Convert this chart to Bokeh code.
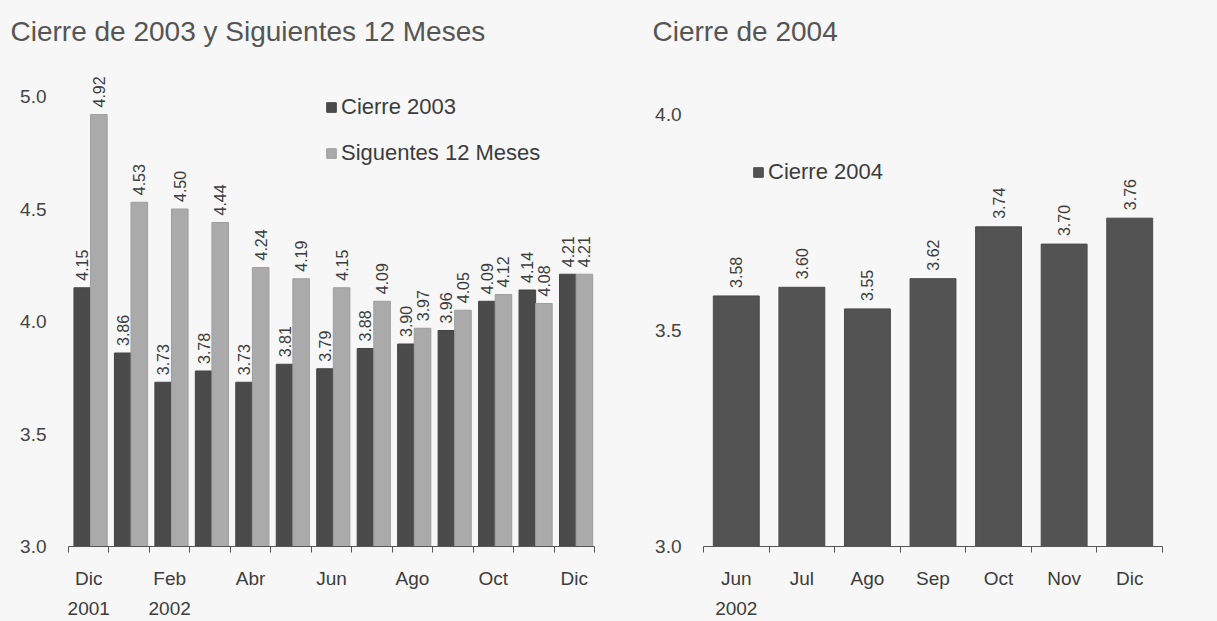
import numpy as np
from bokeh.plotting import figure
from bokeh.models import Range1d, FixedTicker, LinearAxis, Legend, LegendItem, ColumnDataSource, PrintfTickFormatter
from bokeh.layouts import row
from bokeh.embed import file_html
from bokeh.resources import INLINE
from bokeh.core.properties import value

# ---------------- data ----------------
left_months = ["Dic", "Ene", "Feb", "Mar", "Abr", "May", "Jun", "Jul", "Ago", "Sep", "Oct", "Nov", "Dic"]
left_tick_labels = {0: "Dic", 2: "Feb", 4: "Abr", 6: "Jun", 8: "Ago", 10: "Oct", 12: "Dic"}
left_year_labels = {0: "2001", 2: "2002"}
cierre_2003 = [4.15, 3.86, 3.73, 3.78, 3.73, 3.81, 3.79, 3.88, 3.90, 3.96, 4.09, 4.14, 4.21]
siguientes_12 = [4.92, 4.53, 4.50, 4.44, 4.24, 4.19, 4.15, 4.09, 3.97, 4.05, 4.12, 4.08, 4.21]

right_months = ["Jun", "Jul", "Ago", "Sep", "Oct", "Nov", "Dic"]
right_year_labels = {0: "2002"}
cierre_2004 = [3.58, 3.60, 3.55, 3.62, 3.74, 3.70, 3.76]

y_ticks = [3.0, 3.5, 4.0, 4.5, 5.0]
y_ticks_right = [3.0, 3.5, 4.0]

title_left = "Cierre de 2003 y Siguientes 12 Meses"
title_right = "Cierre de 2004"

# ---------------- style ----------------
FONT = "Liberation Sans"
BG = "#f7f7f7"
DARK = "#4b4b4b"
LIGHT = "#aaaaaa"
DARK_R = "#535353"
TXT = "#3c3c3c"


def style(p, title_offset):
    p.background_fill_color = BG
    p.border_fill_color = BG
    p.outline_line_color = None
    p.xgrid.visible = False
    p.ygrid.visible = False
    p.title.align = "left"
    p.title.offset = title_offset
    p.title.text_font = FONT
    p.title.text_font_size = "28px"
    p.title.text_font_style = "normal"
    p.title.text_color = "#555555"
    p.title.standoff = 27
    ya = p.yaxis[0]
    ya.axis_line_color = None
    ya.major_tick_line_color = None
    ya.minor_tick_line_color = None
    ya.major_tick_out = 0
    ya.major_tick_in = 0
    ya.minor_tick_out = 0
    ya.major_label_standoff = 22
    ya.major_label_text_font = FONT
    ya.major_label_text_font_size = "19px"
    ya.major_label_text_color = "#444444"
    ya.formatter = PrintfTickFormatter(format="%.1f")
    xa = p.xaxis[0]
    xa.axis_line_color = "#555555"
    xa.major_tick_line_color = None
    xa.major_tick_out = 0
    xa.major_tick_in = 0
    xa.minor_tick_line_color = "#555555"
    xa.minor_tick_out = 6
    xa.minor_tick_in = 0
    xa.major_label_standoff = 15
    xa.major_label_text_font = FONT
    xa.major_label_text_font_size = "19px"
    xa.major_label_text_color = TXT


def year_axis(labels):
    ax = LinearAxis(ticker=FixedTicker(ticks=list(labels.keys())),
                    major_label_overrides=labels)
    ax.axis_line_color = None
    ax.major_tick_line_color = None
    ax.minor_tick_line_color = None
    ax.major_tick_out = 0
    ax.minor_tick_out = 0
    ax.major_label_standoff = 10
    ax.major_label_text_font = FONT
    ax.major_label_text_font_size = "19px"
    ax.major_label_text_color = TXT
    return ax


# ---------------- left chart ----------------
n_l = len(left_months)
idx_l = np.arange(n_l)
p1 = figure(width=628, height=621, output_backend="svg", toolbar_location=None,
            x_range=Range1d(-0.5, n_l - 0.5), y_range=Range1d(3.0, 5.16),
            min_border_left=68, min_border_right=34, min_border_top=60, min_border_bottom=75,
            title=title_left)
style(p1, -58)
p1.yaxis[0].ticker = FixedTicker(ticks=y_ticks)
p1.xaxis[0].ticker = FixedTicker(ticks=list(left_tick_labels.keys()),
                                 minor_ticks=[i - 0.5 for i in range(n_l + 1)])
p1.xaxis[0].major_label_overrides = left_tick_labels
p1.add_layout(year_axis(left_year_labels), "below")

src_a = ColumnDataSource(dict(x=idx_l - 0.16, top=cierre_2003, lab=[f"{v:.2f}" for v in cierre_2003]))
src_b = ColumnDataSource(dict(x=idx_l + 0.25, top=siguientes_12, lab=[f"{v:.2f}" for v in siguientes_12]))
ra = p1.vbar(x="x", top="top", bottom=3.0, width=0.41, source=src_a, fill_color=DARK, line_color="#444444")
rb = p1.vbar(x="x", top="top", bottom=3.0, width=0.41, source=src_b, fill_color=LIGHT, line_color="#9e9e9e")
for s in (src_a, src_b):
    p1.text(x="x", y="top", text="lab", source=s, angle=np.pi / 2, text_align="left",
            text_baseline="middle", y_offset=-7, text_font=value(FONT),
            text_font_size="16px", text_color=TXT)

leg1 = Legend(items=[LegendItem(label="Cierre 2003", renderers=[ra]),
                     LegendItem(label="Siguentes 12 Meses", renderers=[rb])],
              location=(257, 380), glyph_width=12, glyph_height=12, label_standoff=4,
              label_text_font=FONT, label_text_font_size="22px", label_text_color=TXT,
              spacing=20, padding=0, margin=0, border_line_color=None, background_fill_alpha=0)
p1.add_layout(leg1)

# ---------------- right chart ----------------
n_r = len(right_months)
idx_r = np.arange(n_r)
p2 = figure(width=589, height=621, output_backend="svg", toolbar_location=None,
            x_range=Range1d(-0.5, n_r - 0.5), y_range=Range1d(3.0, 4.125),
            min_border_left=75, min_border_right=55, min_border_top=60, min_border_bottom=75,
            title=title_right)
style(p2, -51)
p2.yaxis[0].ticker = FixedTicker(ticks=y_ticks_right)
p2.xaxis[0].ticker = FixedTicker(ticks=list(idx_r), minor_ticks=[i - 0.5 for i in range(n_r + 1)])
p2.xaxis[0].major_label_overrides = {int(i): m for i, m in zip(idx_r, right_months)}
p2.add_layout(year_axis(right_year_labels), "below")

src_c = ColumnDataSource(dict(x=idx_r, top=cierre_2004, lab=[f"{v:.2f}" for v in cierre_2004]))
rc = p2.vbar(x="x", top="top", bottom=3.0, width=0.7, source=src_c, fill_color=DARK_R, line_color="#4a4a4a")
p2.text(x="x", y="top", text="lab", source=src_c, angle=np.pi / 2, text_align="left",
        text_baseline="middle", y_offset=-8, text_font=value(FONT),
        text_font_size="16px", text_color=TXT)

leg2 = Legend(items=[LegendItem(label="Cierre 2004", renderers=[rc])],
              location=(49, 361), glyph_width=12, glyph_height=12, label_standoff=4,
              label_text_font=FONT, label_text_font_size="22px", label_text_color=TXT,
              spacing=20, padding=0, margin=0, border_line_color=None, background_fill_alpha=0)
p2.add_layout(leg2)

layout = row(p1, p2, styles={"background-color": BG})
open("out.html", "w").write(file_html(layout, INLINE))
